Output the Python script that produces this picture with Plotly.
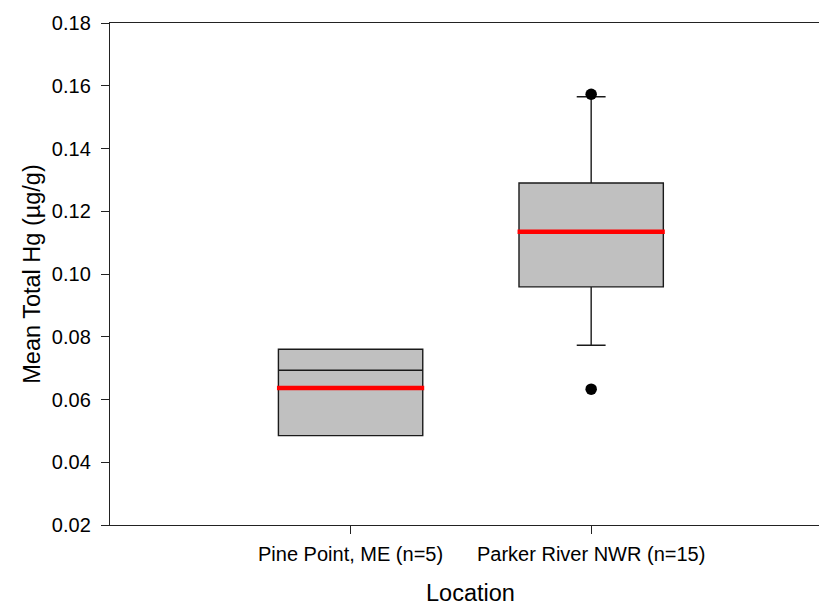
import plotly.graph_objects as go

# Sampling locations and summary statistics of mean total Hg (ug/g)
locations = ["Pine Point, ME (n=5)", "Parker River NWR (n=15)"]
positions = [1, 2]
q1 = [0.0485, 0.0959]
median = [0.0693, 0.1133]
q3 = [0.0760, 0.1290]
lower_whisker = [0.0485, 0.0773]
upper_whisker = [0.0760, 0.1565]
means = [0.0637, 0.1135]

# Outlying individual values (Parker River NWR)
outlier_x = [2, 2]
outlier_y = [0.1573, 0.0633]

y_ticks = [0.02, 0.04, 0.06, 0.08, 0.10, 0.12, 0.14, 0.16, 0.18]

BOX_WIDTH = 0.6
FONT = "Liberation Sans, Arial, sans-serif"

fig = go.Figure()

fig.add_trace(go.Box(
    x=positions,
    q1=q1,
    median=median,
    q3=q3,
    lowerfence=lower_whisker,
    upperfence=upper_whisker,
    width=BOX_WIDTH,
    whiskerwidth=0.2,
    fillcolor="#c0c0c0",
    line=dict(color="#1a1a1a", width=1.4),
    boxpoints=False,
    hoverinfo="skip",
    showlegend=False,
))

# Mean shown as a thick red bar across each box
half = BOX_WIDTH / 2 + 0.006
for pos, m in zip(positions, means):
    fig.add_trace(go.Scatter(
        x=[pos - half, pos + half],
        y=[m, m],
        mode="lines",
        line=dict(color="#ff0000", width=4.5),
        hoverinfo="skip",
        showlegend=False,
    ))

fig.add_trace(go.Scatter(
    x=outlier_x,
    y=outlier_y,
    mode="markers",
    marker=dict(color="black", size=11.5),
    hoverinfo="skip",
    showlegend=False,
))

fig.update_layout(
    width=819,
    height=605,
    margin=dict(l=110, r=0, t=23, b=80),
    paper_bgcolor="white",
    plot_bgcolor="white",
    font=dict(family=FONT, color="black"),
    xaxis=dict(
        range=[0, 2.947],
        tickmode="array",
        tickvals=positions,
        ticktext=locations,
        ticks="outside",
        ticklen=8,
        tickwidth=1.3,
        tickcolor="#222",
        tickfont=dict(size=20),
        ticklabelstandoff=3,
        showline=True,
        linecolor="#222",
        linewidth=1.4,
        mirror=True,
        showgrid=False,
        zeroline=False,
        automargin=False,
    ),
    yaxis=dict(
        range=[0.02, 0.18],
        tickmode="array",
        tickvals=y_ticks,
        tickformat=".2f",
        ticks="outside",
        ticklen=8,
        tickwidth=1.3,
        tickcolor="#222",
        tickfont=dict(size=20),
        ticklabelstandoff=6,
        showline=True,
        linecolor="#222",
        linewidth=1.4,
        showgrid=False,
        zeroline=False,
        title=dict(text="Mean Total Hg (µg/g)", font=dict(size=23.5), standoff=4),
    ),
    annotations=[dict(
        text="Location",
        xref="paper", yref="paper",
        x=0.509, y=-0.136,
        xanchor="center", yanchor="middle",
        showarrow=False,
        font=dict(size=23.5),
    )],
)

fig.write_html("out.html")
